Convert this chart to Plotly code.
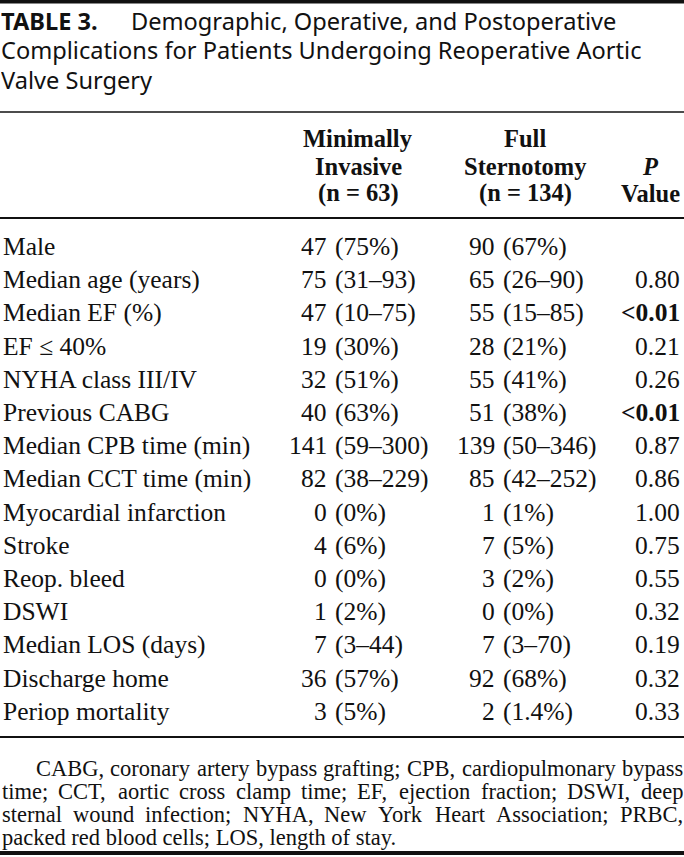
import plotly.graph_objects as go

W, H = 684, 857

title_label = "TABLE 3."
title_lines = [
    "Demographic, Operative, and Postoperative",
    "Complications for Patients Undergoing Reoperative Aortic",
    "Valve Surgery",
]
col_headers = [
    ["Minimally", "Invasive", "(n = 63)"],
    ["Full", "Sternotomy", "(n = 134)"],
    ["<i>P</i>", "Value"],
]
row_labels = [
    "Male", "Median age (years)", "Median EF (%)", "EF ≤ 40%", "NYHA class III/IV",
    "Previous CABG", "Median CPB time (min)", "Median CCT time (min)",
    "Myocardial infarction", "Stroke", "Reop. bleed", "DSWI", "Median LOS (days)",
    "Discharge home", "Periop mortality",
]
minimally_invasive = [
    "47 (75%)", "75 (31–93)", "47 (10–75)", "19 (30%)", "32 (51%)", "40 (63%)",
    "141 (59–300)", "82 (38–229)", "0 (0%)", "4 (6%)", "0 (0%)", "1 (2%)",
    "7 (3–44)", "36 (57%)", "3 (5%)",
]
full_sternotomy = [
    "90 (67%)", "65 (26–90)", "55 (15–85)", "28 (21%)", "55 (41%)", "51 (38%)",
    "139 (50–346)", "85 (42–252)", "1 (1%)", "7 (5%)", "3 (2%)", "0 (0%)",
    "7 (3–70)", "92 (68%)", "2 (1.4%)",
]
p_values = [
    "", "0.80", "<0.01", "0.21", "0.26", "<0.01", "0.87", "0.86", "1.00",
    "0.75", "0.55", "0.32", "0.19", "0.32", "0.33",
]
significant = [p == "<0.01" for p in p_values]
footnote_lines = [
    "CABG, coronary artery bypass grafting; CPB, cardiopulmonary bypass",
    "time; CCT, aortic cross clamp time; EF, ejection fraction; DSWI, deep",
    "sternal wound infection; NYHA, New York Heart Association; PRBC,",
    "packed red blood cells; LOS, length of stay.",
]

SERIF = "Liberation Serif"
SANS = "Noto Sans"
INK = "#111"
BODY = 25.5
HEAD = 24.5
FOOT = 22.5
TITLE = 23.6

# Times-compatible advance widths (1/1000 em) used to justify the footnote
TW = {" ": 250, ",": 250, ".": 250, ";": 278, "(": 333, ")": 333, "%": 833}
TW.update({c: 500 for c in "0123456789"})
TW.update(dict(zip("ABCDEFGHIJKLMNOPQRSTUVWXYZ",
                   [722, 667, 667, 722, 611, 556, 722, 722, 333, 389, 722, 611, 889,
                    722, 722, 556, 722, 667, 556, 611, 722, 722, 944, 722, 722, 611])))
TW.update(dict(zip("abcdefghijklmnopqrstuvwxyz",
                   [444, 500, 444, 500, 444, 333, 500, 500, 278, 278, 500, 278, 778,
                    500, 500, 500, 500, 333, 389, 278, 500, 500, 722, 500, 500, 444])))


def tw(s, size):
    return sum(TW.get(c, 500) for c in s) * size / 1000.0


def px(x):
    return x / W


def py(y):
    return 1 - y / H


ann = []
shapes = []


def text(x, y, t, anchor, family, size, box_h=None):
    a = dict(x=px(x), y=py(y), xref="paper", yref="paper", text=t,
             xanchor=anchor, yanchor="middle", showarrow=False, borderpad=0,
             font=dict(family=family, size=size, color=INK))
    if box_h is not None:
        # tighter box (only the empty space above the glyphs is trimmed)
        a.update(height=box_h, valign="bottom")
    ann.append(a)


def hline(y, w):
    shapes.append(dict(type="line", xref="paper", yref="paper", x0=0, x1=1,
                       y0=py(y), y1=py(y), line=dict(color=INK, width=w)))


# title
TBOX = 26
tshift = 3
title_y = [20.5, 50, 79.5]
text(0, title_y[0] + tshift, "<b>" + title_label + "</b>", "left", SANS, TITLE, TBOX)
text(130, title_y[0] + tshift, title_lines[0], "left", SANS, TITLE, TBOX)
text(0, title_y[1] + tshift, title_lines[1], "left", SANS, TITLE, TBOX)
text(0, title_y[2] + tshift, title_lines[2], "left", SANS, TITLE, TBOX)

# rules
hline(1.8, 3.6)
hline(112, 1.6)
hline(218, 1.8)
hline(737, 1.8)
hline(853, 4)

# headers
col_centers = [358, 525]
for c, hdr in enumerate(col_headers[:2]):
    for j, t in enumerate(hdr):
        text(col_centers[c], 139 + j * 27, "<b>" + t + "</b>", "center", SERIF, HEAD)
text(650, 166, "<b>" + col_headers[2][0] + "</b>", "center", SERIF, HEAD)
text(681, 193, "<b>" + col_headers[2][1] + "</b>", "right", SERIF, HEAD)

# body: values aligned on the opening parenthesis
paren_x = [334, 502]
space_w = 0.25 * BODY
row_y0, row_dy = 246.5, 33.2
for i, lab in enumerate(row_labels):
    y = row_y0 + i * row_dy
    text(2, y, lab, "left", SERIF, BODY)
    for c, col in enumerate([minimally_invasive, full_sternotomy]):
        num, rest = col[i].split(" ", 1)
        text(paren_x[c] - space_w, y, num, "right", SERIF, BODY)
        text(paren_x[c], y, rest, "left", SERIF, BODY)
    pv = p_values[i]
    if pv:
        txt = "<b>" + pv.replace("<", "&lt;") + "</b>" if significant[i] else pv
        text(681, y, txt, "right", SERIF, BODY)

# footnote (justified, last line ragged)
FBOX = 22
fshift = 1.4
left_edge, right_edge = 1, 682
for i, line in enumerate(footnote_lines):
    y = 769 + i * 22.8 + fshift
    x0 = 35 if i == 0 else left_edge
    words = line.split(" ")
    if i == len(footnote_lines) - 1:
        text(x0, y, line, "left", SERIF, FOOT, FBOX)
        continue
    widths = [tw(w, FOOT) for w in words]
    gap = (right_edge - x0 - sum(widths)) / (len(words) - 1)
    x = x0
    for w, ww in zip(words, widths):
        text(x, y, w, "left", SERIF, FOOT, FBOX)
        x += ww + gap

fig = go.Figure()
fig.update_layout(
    width=W, height=H, margin=dict(l=0, r=0, t=0, b=0),
    paper_bgcolor="white", plot_bgcolor="white",
    xaxis=dict(visible=False), yaxis=dict(visible=False),
    annotations=ann, shapes=shapes, showlegend=False,
)
fig.write_html("out.html", config={"displayModeBar": False},
               post_script="document.body.style.margin='0';document.body.style.overflow='hidden';")
